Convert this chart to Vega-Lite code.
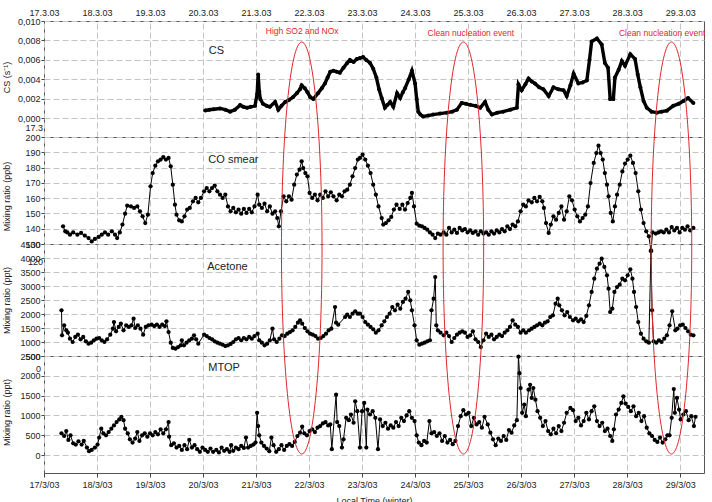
{
"$schema": "https://vega.github.io/schema/vega-lite/v6.json",
"background": "white",
"padding": {"left": 1, "top": 7, "right": 0, "bottom": 0},
"spacing": 0,
"bounds": "flush",
"config": {
  "font": "Liberation Sans",
  "view": {"stroke": "#555", "strokeWidth": 1},
  "axis": {"labelFont": "Liberation Sans", "labelFontSize": 9, "labelColor": "#222", "titleFont": "Liberation Sans", "titleFontSize": 9, "titleFontWeight": "normal", "titleColor": "#222", "gridColor": "#c4c4c4", "gridDash": [6, 3], "gridWidth": 1, "tickColor": "#444", "domain": false, "labelFlush": false, "labelOverlap": false, "tickSize": 3, "labelPadding": 1}
},
"datasets": {
  "cs": [{"d":20.04,"v":0.00082},{"d":20.12,"v":0.0009},{"d":20.2,"v":0.00095},{"d":20.32,"v":0.00103},{"d":20.42,"v":0.0009},{"d":20.51,"v":0.0007},{"d":20.6,"v":0.0009},{"d":20.7,"v":0.00137},{"d":20.76,"v":0.0012},{"d":20.83,"v":0.0011},{"d":20.9,"v":0.0012},{"d":20.98,"v":0.0013},{"d":21.02,"v":0.0025},{"d":21.04,"v":0.0045},{"d":21.06,"v":0.0028},{"d":21.08,"v":0.002},{"d":21.13,"v":0.0015},{"d":21.2,"v":0.0013},{"d":21.26,"v":0.0012},{"d":21.36,"v":0.0017},{"d":21.42,"v":0.0009},{"d":21.48,"v":0.0013},{"d":21.55,"v":0.0017},{"d":21.62,"v":0.0019},{"d":21.7,"v":0.0022},{"d":21.77,"v":0.0026},{"d":21.83,"v":0.003},{"d":21.86,"v":0.0034},{"d":21.92,"v":0.0031},{"d":21.97,"v":0.0027},{"d":22.02,"v":0.0022},{"d":22.08,"v":0.002},{"d":22.17,"v":0.0026},{"d":22.24,"v":0.0031},{"d":22.3,"v":0.0036},{"d":22.35,"v":0.0042},{"d":22.4,"v":0.0048},{"d":22.46,"v":0.0049},{"d":22.52,"v":0.0048},{"d":22.58,"v":0.0047},{"d":22.65,"v":0.0052},{"d":22.72,"v":0.0057},{"d":22.77,"v":0.006},{"d":22.84,"v":0.0058},{"d":22.9,"v":0.0061},{"d":22.96,"v":0.0062},{"d":23.02,"v":0.0063},{"d":23.08,"v":0.006},{"d":23.15,"v":0.0057},{"d":23.21,"v":0.0051},{"d":23.27,"v":0.0042},{"d":23.32,"v":0.003},{"d":23.37,"v":0.0021},{"d":23.43,"v":0.0011},{"d":23.48,"v":0.0014},{"d":23.53,"v":0.0017},{"d":23.59,"v":0.0012},{"d":23.66,"v":0.0026},{"d":23.72,"v":0.0021},{"d":23.77,"v":0.0027},{"d":23.81,"v":0.0031},{"d":23.88,"v":0.004},{"d":23.94,"v":0.0049},{"d":24.0,"v":0.0036},{"d":24.03,"v":0.002},{"d":24.06,"v":0.0007},{"d":24.1,"v":0.0004},{"d":24.15,"v":0.0002},{"d":24.25,"v":0.0003},{"d":24.34,"v":0.0004},{"d":24.47,"v":0.0005},{"d":24.6,"v":0.0006},{"d":24.7,"v":0.0007},{"d":24.79,"v":0.0009},{"d":24.88,"v":0.0016},{"d":24.96,"v":0.0015},{"d":25.04,"v":0.0014},{"d":25.14,"v":0.0013},{"d":25.23,"v":0.0011},{"d":25.32,"v":0.0017},{"d":25.38,"v":0.0009},{"d":25.45,"v":0.0004},{"d":25.55,"v":0.0006},{"d":25.66,"v":0.0007},{"d":25.8,"v":0.0009},{"d":25.92,"v":0.0011},{"d":25.95,"v":0.0035},{"d":26.01,"v":0.0029},{"d":26.08,"v":0.0035},{"d":26.14,"v":0.0041},{"d":26.2,"v":0.0038},{"d":26.26,"v":0.0036},{"d":26.34,"v":0.0032},{"d":26.42,"v":0.003},{"d":26.52,"v":0.0023},{"d":26.61,"v":0.0032},{"d":26.7,"v":0.003},{"d":26.8,"v":0.0029},{"d":26.86,"v":0.0023},{"d":26.93,"v":0.0034},{"d":26.99,"v":0.0046},{"d":27.08,"v":0.0036},{"d":27.16,"v":0.0037},{"d":27.24,"v":0.0039},{"d":27.29,"v":0.006},{"d":27.33,"v":0.0079},{"d":27.43,"v":0.0082},{"d":27.52,"v":0.0076},{"d":27.58,"v":0.0057},{"d":27.64,"v":0.0052},{"d":27.68,"v":0.002},{"d":27.74,"v":0.002},{"d":27.77,"v":0.0042},{"d":27.84,"v":0.005},{"d":27.9,"v":0.0059},{"d":27.96,"v":0.0054},{"d":28.06,"v":0.0066},{"d":28.15,"v":0.0061},{"d":28.2,"v":0.0045},{"d":28.25,"v":0.0032},{"d":28.31,"v":0.0018},{"d":28.37,"v":0.0011},{"d":28.46,"v":0.0007},{"d":28.56,"v":0.0006},{"d":28.65,"v":0.0007},{"d":28.75,"v":0.0008},{"d":28.87,"v":0.0013},{"d":28.97,"v":0.0015},{"d":29.06,"v":0.0018},{"d":29.15,"v":0.0021},{"d":29.25,"v":0.0016}],
  "co": [{"d":17.36,"v":141.6},{"d":17.40,"v":138.3},{"d":17.44,"v":137.6},{"d":17.49,"v":136.1},{"d":17.55,"v":137.6},{"d":17.63,"v":136.1},{"d":17.70,"v":137.2},{"d":17.77,"v":135.5},{"d":17.84,"v":133.9},{"d":17.90,"v":131.7},{"d":17.96,"v":133.3},{"d":18.03,"v":134.6},{"d":18.09,"v":136.1},{"d":18.15,"v":137.6},{"d":18.21,"v":136.1},{"d":18.28,"v":138.3},{"d":18.34,"v":136.1},{"d":18.38,"v":133.9},{"d":18.43,"v":137.6},{"d":18.48,"v":142.7},{"d":18.53,"v":149.8},{"d":18.57,"v":155.1},{"d":18.64,"v":154.6},{"d":18.70,"v":153.6},{"d":18.76,"v":154.6},{"d":18.81,"v":151.4},{"d":18.86,"v":148.1},{"d":18.91,"v":143.7},{"d":18.96,"v":149.2},{"d":19.01,"v":167.7},{"d":19.05,"v":176.4},{"d":19.10,"v":181.2},{"d":19.15,"v":184.1},{"d":19.20,"v":185.2},{"d":19.25,"v":186.9},{"d":19.30,"v":185.2},{"d":19.35,"v":186.3},{"d":19.39,"v":180.8},{"d":19.43,"v":168.8},{"d":19.47,"v":155.7},{"d":19.50,"v":149.2},{"d":19.55,"v":145.5},{"d":19.60,"v":144.8},{"d":19.65,"v":148.1},{"d":19.70,"v":152.5},{"d":19.75,"v":153.6},{"d":19.81,"v":157.9},{"d":19.86,"v":160.1},{"d":19.91,"v":157.3},{"d":19.96,"v":160.1},{"d":20.02,"v":164.5},{"d":20.07,"v":166.6},{"d":20.12,"v":164.5},{"d":20.17,"v":166.6},{"d":20.22,"v":168.2},{"d":20.27,"v":164.5},{"d":20.32,"v":162.3},{"d":20.37,"v":160.1},{"d":20.42,"v":162.3},{"d":20.47,"v":154.6},{"d":20.52,"v":151.4},{"d":20.57,"v":153.6},{"d":20.62,"v":150.7},{"d":20.67,"v":152.5},{"d":20.72,"v":149.8},{"d":20.77,"v":152.9},{"d":20.82,"v":150.3},{"d":20.87,"v":152.9},{"d":20.92,"v":150.7},{"d":20.97,"v":154.6},{"d":21.03,"v":162.3},{"d":21.06,"v":155.7},{"d":21.11,"v":153.6},{"d":21.16,"v":156.4},{"d":21.21,"v":151.4},{"d":21.26,"v":154.6},{"d":21.31,"v":149.8},{"d":21.36,"v":151.4},{"d":21.40,"v":147.0},{"d":21.43,"v":141.6},{"d":21.47,"v":151.4},{"d":21.52,"v":161.2},{"d":21.57,"v":157.9},{"d":21.62,"v":161.2},{"d":21.67,"v":159.0},{"d":21.72,"v":168.8},{"d":21.77,"v":175.4},{"d":21.82,"v":178.6},{"d":21.86,"v":184.1},{"d":21.89,"v":179.7},{"d":21.93,"v":176.4},{"d":21.97,"v":174.3},{"d":22.01,"v":163.4},{"d":22.06,"v":160.1},{"d":22.11,"v":162.3},{"d":22.16,"v":158.6},{"d":22.21,"v":162.3},{"d":22.26,"v":160.1},{"d":22.31,"v":164.5},{"d":22.36,"v":161.2},{"d":22.41,"v":163.8},{"d":22.46,"v":161.2},{"d":22.52,"v":158.6},{"d":22.57,"v":162.3},{"d":22.62,"v":161.2},{"d":22.67,"v":164.5},{"d":22.72,"v":165.5},{"d":22.77,"v":168.8},{"d":22.82,"v":174.3},{"d":22.87,"v":179.7},{"d":22.92,"v":185.2},{"d":22.96,"v":186.3},{"d":23.01,"v":188.4},{"d":23.06,"v":185.2},{"d":23.11,"v":181.2},{"d":23.16,"v":176.4},{"d":23.21,"v":168.8},{"d":23.26,"v":162.3},{"d":23.31,"v":154.6},{"d":23.37,"v":147.0},{"d":23.40,"v":142.7},{"d":23.45,"v":143.7},{"d":23.50,"v":145.5},{"d":23.55,"v":147.7},{"d":23.60,"v":152.5},{"d":23.65,"v":155.7},{"d":23.71,"v":152.9},{"d":23.76,"v":155.7},{"d":23.81,"v":152.5},{"d":23.86,"v":156.8},{"d":23.91,"v":160.1},{"d":23.94,"v":163.4},{"d":23.98,"v":154.6},{"d":24.03,"v":143.3},{"d":24.08,"v":142.0},{"d":24.13,"v":141.6},{"d":24.18,"v":140.5},{"d":24.23,"v":139.4},{"d":24.28,"v":137.6},{"d":24.33,"v":136.1},{"d":24.38,"v":133.9},{"d":24.43,"v":136.8},{"d":24.48,"v":136.1},{"d":24.54,"v":137.6},{"d":24.59,"v":136.1},{"d":24.64,"v":140.5},{"d":24.69,"v":137.6},{"d":24.74,"v":139.4},{"d":24.79,"v":137.2},{"d":24.84,"v":140.5},{"d":24.89,"v":138.9},{"d":24.94,"v":139.8},{"d":24.99,"v":137.6},{"d":25.04,"v":138.9},{"d":25.09,"v":137.2},{"d":25.14,"v":138.3},{"d":25.19,"v":136.1},{"d":25.24,"v":138.3},{"d":25.29,"v":136.8},{"d":25.34,"v":137.6},{"d":25.39,"v":136.1},{"d":25.44,"v":138.3},{"d":25.49,"v":136.8},{"d":25.54,"v":138.9},{"d":25.59,"v":137.6},{"d":25.64,"v":139.8},{"d":25.69,"v":138.3},{"d":25.74,"v":141.6},{"d":25.79,"v":139.8},{"d":25.84,"v":142.7},{"d":25.89,"v":141.6},{"d":25.94,"v":144.8},{"d":25.99,"v":151.4},{"d":26.04,"v":155.7},{"d":26.09,"v":154.6},{"d":26.14,"v":158.6},{"d":26.20,"v":157.3},{"d":26.25,"v":160.1},{"d":26.30,"v":157.9},{"d":26.35,"v":160.8},{"d":26.40,"v":157.9},{"d":26.43,"v":153.6},{"d":26.47,"v":143.7},{"d":26.52,"v":137.2},{"d":26.56,"v":142.7},{"d":26.61,"v":148.1},{"d":26.66,"v":145.9},{"d":26.71,"v":150.3},{"d":26.76,"v":154.6},{"d":26.81,"v":145.9},{"d":26.86,"v":151.4},{"d":26.91,"v":161.2},{"d":26.96,"v":158.6},{"d":27.01,"v":152.5},{"d":27.06,"v":148.1},{"d":27.11,"v":144.8},{"d":27.16,"v":147.0},{"d":27.21,"v":149.2},{"d":27.26,"v":154.6},{"d":27.31,"v":169.9},{"d":27.37,"v":183.0},{"d":27.42,"v":189.5},{"d":27.46,"v":194.3},{"d":27.50,"v":189.5},{"d":27.54,"v":185.2},{"d":27.58,"v":176.4},{"d":27.62,"v":168.8},{"d":27.65,"v":161.2},{"d":27.69,"v":150.3},{"d":27.73,"v":144.8},{"d":27.77,"v":154.6},{"d":27.81,"v":162.3},{"d":27.86,"v":168.8},{"d":27.91,"v":177.5},{"d":27.96,"v":182.6},{"d":28.01,"v":185.2},{"d":28.06,"v":187.8},{"d":28.11,"v":183.0},{"d":28.16,"v":176.4},{"d":28.21,"v":164.5},{"d":28.26,"v":152.5},{"d":28.31,"v":143.7},{"d":28.36,"v":138.3},{"d":28.41,"v":135.0},{"d":28.45,"v":125.2},{"d":28.48,"v":137.6},{"d":28.54,"v":136.8},{"d":28.59,"v":137.6},{"d":28.64,"v":138.3},{"d":28.69,"v":137.6},{"d":28.74,"v":139.4},{"d":28.79,"v":137.6},{"d":28.84,"v":141.1},{"d":28.89,"v":138.9},{"d":28.94,"v":140.5},{"d":28.99,"v":137.6},{"d":29.04,"v":140.5},{"d":29.09,"v":139.4},{"d":29.14,"v":141.6},{"d":29.19,"v":138.9},{"d":29.25,"v":140.5}],
  "ac": [{"d":17.33,"v":2131},{"d":17.34,"v":1238},{"d":17.38,"v":1595},{"d":17.42,"v":1417},{"d":17.45,"v":1333},{"d":17.49,"v":1119},{"d":17.54,"v":1000},{"d":17.59,"v":1179},{"d":17.64,"v":1262},{"d":17.69,"v":1095},{"d":17.74,"v":1179},{"d":17.79,"v":1024},{"d":17.84,"v":940},{"d":17.89,"v":976},{"d":17.94,"v":1060},{"d":17.99,"v":1119},{"d":18.04,"v":1143},{"d":18.09,"v":1060},{"d":18.14,"v":1000},{"d":18.19,"v":1095},{"d":18.25,"v":1262},{"d":18.30,"v":1476},{"d":18.32,"v":1714},{"d":18.36,"v":1381},{"d":18.41,"v":1536},{"d":18.45,"v":1655},{"d":18.50,"v":1417},{"d":18.55,"v":1595},{"d":18.60,"v":1536},{"d":18.65,"v":1595},{"d":18.69,"v":1833},{"d":18.72,"v":1500},{"d":18.77,"v":1595},{"d":18.82,"v":1476},{"d":18.87,"v":1262},{"d":18.92,"v":1536},{"d":18.97,"v":1595},{"d":19.03,"v":1619},{"d":19.08,"v":1571},{"d":19.13,"v":1619},{"d":19.18,"v":1536},{"d":19.23,"v":1619},{"d":19.28,"v":1571},{"d":19.31,"v":1738},{"d":19.35,"v":1357},{"d":19.39,"v":976},{"d":19.43,"v":786},{"d":19.48,"v":762},{"d":19.53,"v":821},{"d":19.58,"v":881},{"d":19.60,"v":1060},{"d":19.64,"v":881},{"d":19.69,"v":976},{"d":19.74,"v":1060},{"d":19.79,"v":1119},{"d":19.83,"v":1238},{"d":19.87,"v":1095},{"d":19.91,"v":940},{"d":20.02,"v":1262},{"d":20.07,"v":1214},{"d":20.12,"v":1143},{"d":20.17,"v":1095},{"d":20.22,"v":1024},{"d":20.27,"v":976},{"d":20.32,"v":940},{"d":20.37,"v":905},{"d":20.42,"v":857},{"d":20.47,"v":881},{"d":20.52,"v":929},{"d":20.57,"v":1000},{"d":20.62,"v":1095},{"d":20.67,"v":1143},{"d":20.72,"v":1060},{"d":20.77,"v":1143},{"d":20.82,"v":1095},{"d":20.87,"v":1179},{"d":20.92,"v":1119},{"d":20.97,"v":1214},{"d":21.03,"v":1298},{"d":21.06,"v":1060},{"d":21.11,"v":976},{"d":21.16,"v":881},{"d":21.21,"v":940},{"d":21.26,"v":1060},{"d":21.31,"v":1476},{"d":21.34,"v":1095},{"d":21.39,"v":1000},{"d":21.44,"v":1119},{"d":21.49,"v":1238},{"d":21.54,"v":1214},{"d":21.59,"v":1298},{"d":21.64,"v":1357},{"d":21.69,"v":1417},{"d":21.74,"v":1536},{"d":21.79,"v":1690},{"d":21.83,"v":1774},{"d":21.87,"v":1655},{"d":21.92,"v":1500},{"d":21.97,"v":1381},{"d":22.02,"v":1298},{"d":22.07,"v":1262},{"d":22.12,"v":1214},{"d":22.17,"v":1119},{"d":22.22,"v":1143},{"d":22.27,"v":1214},{"d":22.32,"v":1298},{"d":22.37,"v":1417},{"d":22.42,"v":1476},{"d":22.49,"v":2250},{"d":22.51,"v":1690},{"d":22.55,"v":1619},{"d":22.68,"v":1893},{"d":22.72,"v":1976},{"d":22.77,"v":1893},{"d":22.82,"v":2012},{"d":22.87,"v":2095},{"d":22.92,"v":2012},{"d":22.96,"v":2012},{"d":23.01,"v":1893},{"d":23.06,"v":1714},{"d":23.11,"v":1619},{"d":23.16,"v":1536},{"d":23.21,"v":1452},{"d":23.26,"v":1333},{"d":23.31,"v":1417},{"d":23.37,"v":1595},{"d":23.42,"v":1738},{"d":23.47,"v":1893},{"d":23.52,"v":2012},{"d":23.57,"v":2250},{"d":23.62,"v":2131},{"d":23.67,"v":2333},{"d":23.72,"v":2190},{"d":23.77,"v":2429},{"d":23.82,"v":2548},{"d":23.87,"v":2786},{"d":23.91,"v":2488},{"d":23.94,"v":2131},{"d":23.99,"v":1595},{"d":24.03,"v":1060},{"d":24.08,"v":905},{"d":24.13,"v":940},{"d":24.18,"v":976},{"d":24.23,"v":1024},{"d":24.28,"v":1060},{"d":24.31,"v":2131},{"d":24.35,"v":2548},{"d":24.38,"v":3321},{"d":24.40,"v":1595},{"d":24.43,"v":1417},{"d":24.48,"v":1333},{"d":24.54,"v":1238},{"d":24.59,"v":1333},{"d":24.64,"v":1214},{"d":24.69,"v":1000},{"d":24.74,"v":1143},{"d":24.79,"v":1262},{"d":24.84,"v":1333},{"d":24.89,"v":1381},{"d":24.94,"v":1333},{"d":24.99,"v":1179},{"d":25.04,"v":1238},{"d":25.09,"v":1381},{"d":25.14,"v":1095},{"d":25.19,"v":1000},{"d":25.24,"v":821},{"d":25.29,"v":1060},{"d":25.34,"v":1298},{"d":25.39,"v":1179},{"d":25.44,"v":1262},{"d":25.49,"v":1095},{"d":25.54,"v":1179},{"d":25.59,"v":1262},{"d":25.64,"v":1214},{"d":25.69,"v":1333},{"d":25.74,"v":1417},{"d":25.79,"v":1536},{"d":25.84,"v":1774},{"d":25.89,"v":1619},{"d":25.94,"v":1536},{"d":25.99,"v":1333},{"d":26.04,"v":1417},{"d":26.09,"v":1333},{"d":26.15,"v":1417},{"d":26.20,"v":1476},{"d":26.25,"v":1536},{"d":26.30,"v":1595},{"d":26.35,"v":1655},{"d":26.40,"v":1595},{"d":26.45,"v":1690},{"d":26.50,"v":1738},{"d":26.55,"v":1893},{"d":26.60,"v":1952},{"d":26.65,"v":2369},{"d":26.69,"v":2548},{"d":26.72,"v":2310},{"d":26.77,"v":2131},{"d":26.82,"v":1952},{"d":26.87,"v":2071},{"d":26.92,"v":1893},{"d":26.98,"v":1774},{"d":27.03,"v":1833},{"d":27.08,"v":1738},{"d":27.13,"v":1810},{"d":27.18,"v":1714},{"d":27.23,"v":1929},{"d":27.28,"v":2310},{"d":27.33,"v":2786},{"d":27.38,"v":3262},{"d":27.43,"v":3619},{"d":27.48,"v":3798},{"d":27.52,"v":3976},{"d":27.57,"v":3679},{"d":27.62,"v":3381},{"d":27.65,"v":2905},{"d":27.68,"v":2071},{"d":27.72,"v":2190},{"d":27.76,"v":2786},{"d":27.81,"v":2964},{"d":27.86,"v":3048},{"d":27.91,"v":3262},{"d":27.96,"v":3202},{"d":28.01,"v":3381},{"d":28.06,"v":3595},{"d":28.10,"v":3262},{"d":28.13,"v":2786},{"d":28.17,"v":2250},{"d":28.21,"v":1714},{"d":28.26,"v":1298},{"d":28.31,"v":1119},{"d":28.36,"v":1024},{"d":28.41,"v":976},{"d":28.45,"v":4274},{"d":28.47,"v":2131},{"d":28.50,"v":1024},{"d":28.55,"v":976},{"d":28.60,"v":1060},{"d":28.65,"v":1000},{"d":28.70,"v":1119},{"d":28.75,"v":1238},{"d":28.80,"v":1595},{"d":28.85,"v":2095},{"d":28.91,"v":1417},{"d":28.95,"v":1476},{"d":29.00,"v":1595},{"d":29.05,"v":1619},{"d":29.10,"v":1500},{"d":29.15,"v":1381},{"d":29.20,"v":1262},{"d":29.25,"v":1238}],
  "mt": [{"d":17.33,"v":550},{"d":17.38,"v":483},{"d":17.42,"v":608},{"d":17.46,"v":383},{"d":17.50,"v":500},{"d":17.55,"v":300},{"d":17.60,"v":267},{"d":17.65,"v":350},{"d":17.71,"v":267},{"d":17.75,"v":358},{"d":17.81,"v":192},{"d":17.85,"v":100},{"d":17.90,"v":133},{"d":17.96,"v":192},{"d":18.01,"v":267},{"d":18.04,"v":442},{"d":18.08,"v":667},{"d":18.12,"v":550},{"d":18.17,"v":500},{"d":18.22,"v":583},{"d":18.27,"v":667},{"d":18.32,"v":750},{"d":18.37,"v":833},{"d":18.42,"v":900},{"d":18.46,"v":967},{"d":18.50,"v":883},{"d":18.53,"v":667},{"d":18.58,"v":550},{"d":18.62,"v":400},{"d":18.67,"v":317},{"d":18.72,"v":417},{"d":18.76,"v":583},{"d":18.80,"v":358},{"d":18.85,"v":500},{"d":18.90,"v":550},{"d":18.95,"v":467},{"d":19.00,"v":550},{"d":19.05,"v":500},{"d":19.10,"v":583},{"d":19.15,"v":525},{"d":19.20,"v":650},{"d":19.25,"v":550},{"d":19.30,"v":650},{"d":19.35,"v":833},{"d":19.36,"v":467},{"d":19.40,"v":250},{"d":19.45,"v":300},{"d":19.50,"v":192},{"d":19.55,"v":233},{"d":19.60,"v":133},{"d":19.65,"v":250},{"d":19.70,"v":150},{"d":19.74,"v":383},{"d":19.79,"v":192},{"d":19.84,"v":250},{"d":19.89,"v":150},{"d":19.94,"v":83},{"d":19.99,"v":192},{"d":20.04,"v":133},{"d":20.09,"v":83},{"d":20.14,"v":167},{"d":20.19,"v":83},{"d":20.25,"v":133},{"d":20.30,"v":67},{"d":20.35,"v":192},{"d":20.40,"v":108},{"d":20.45,"v":150},{"d":20.50,"v":83},{"d":20.53,"v":250},{"d":20.57,"v":108},{"d":20.62,"v":192},{"d":20.67,"v":150},{"d":20.72,"v":233},{"d":20.77,"v":183},{"d":20.81,"v":442},{"d":20.85,"v":192},{"d":20.90,"v":233},{"d":20.95,"v":267},{"d":20.99,"v":317},{"d":21.02,"v":1067},{"d":21.04,"v":733},{"d":21.06,"v":500},{"d":21.10,"v":317},{"d":21.15,"v":233},{"d":21.20,"v":167},{"d":21.25,"v":100},{"d":21.29,"v":442},{"d":21.33,"v":250},{"d":21.38,"v":83},{"d":21.43,"v":150},{"d":21.48,"v":250},{"d":21.53,"v":133},{"d":21.58,"v":233},{"d":21.63,"v":275},{"d":21.68,"v":233},{"d":21.73,"v":333},{"d":21.78,"v":483},{"d":21.83,"v":567},{"d":21.87,"v":717},{"d":21.91,"v":550},{"d":21.96,"v":500},{"d":22.01,"v":608},{"d":22.06,"v":650},{"d":22.11,"v":583},{"d":22.16,"v":692},{"d":22.21,"v":733},{"d":22.26,"v":800},{"d":22.31,"v":833},{"d":22.36,"v":750},{"d":22.40,"v":775},{"d":22.43,"v":150},{"d":22.51,"v":1525},{"d":22.53,"v":833},{"d":22.57,"v":733},{"d":22.62,"v":192},{"d":22.65,"v":400},{"d":22.70,"v":942},{"d":22.75,"v":883},{"d":22.79,"v":1025},{"d":22.84,"v":817},{"d":22.87,"v":1358},{"d":22.91,"v":1108},{"d":22.96,"v":192},{"d":23.00,"v":1108},{"d":23.04,"v":1317},{"d":23.08,"v":192},{"d":23.10,"v":1150},{"d":23.15,"v":1025},{"d":23.20,"v":1108},{"d":23.25,"v":942},{"d":23.30,"v":150},{"d":23.34,"v":900},{"d":23.39,"v":733},{"d":23.44,"v":817},{"d":23.49,"v":667},{"d":23.54,"v":750},{"d":23.59,"v":692},{"d":23.64,"v":833},{"d":23.69,"v":733},{"d":23.74,"v":942},{"d":23.79,"v":858},{"d":23.84,"v":1000},{"d":23.89,"v":1108},{"d":23.94,"v":942},{"d":23.99,"v":858},{"d":24.03,"v":500},{"d":24.07,"v":317},{"d":24.12,"v":250},{"d":24.17,"v":358},{"d":24.22,"v":317},{"d":24.27,"v":858},{"d":24.31,"v":550},{"d":24.36,"v":583},{"d":24.41,"v":483},{"d":24.46,"v":550},{"d":24.51,"v":358},{"d":24.56,"v":483},{"d":24.61,"v":317},{"d":24.66,"v":383},{"d":24.71,"v":275},{"d":24.76,"v":358},{"d":24.81,"v":733},{"d":24.86,"v":983},{"d":24.91,"v":1133},{"d":24.96,"v":1025},{"d":25.01,"v":1067},{"d":25.06,"v":733},{"d":25.11,"v":942},{"d":25.16,"v":775},{"d":25.21,"v":833},{"d":25.26,"v":692},{"d":25.31,"v":967},{"d":25.37,"v":775},{"d":25.42,"v":567},{"d":25.47,"v":400},{"d":25.52,"v":250},{"d":25.57,"v":417},{"d":25.62,"v":358},{"d":25.67,"v":483},{"d":25.72,"v":383},{"d":25.77,"v":633},{"d":25.82,"v":567},{"d":25.87,"v":750},{"d":25.92,"v":883},{"d":25.95,"v":2483},{"d":25.97,"v":2067},{"d":25.99,"v":1692},{"d":26.02,"v":1067},{"d":26.06,"v":1275},{"d":26.09,"v":983},{"d":26.14,"v":1650},{"d":26.17,"v":1775},{"d":26.20,"v":1442},{"d":26.23,"v":1692},{"d":26.27,"v":1400},{"d":26.31,"v":1108},{"d":26.36,"v":942},{"d":26.41,"v":733},{"d":26.46,"v":858},{"d":26.51,"v":608},{"d":26.56,"v":525},{"d":26.61,"v":667},{"d":26.66,"v":550},{"d":26.71,"v":733},{"d":26.76,"v":608},{"d":26.81,"v":817},{"d":26.86,"v":1067},{"d":26.93,"v":1192},{"d":26.98,"v":1133},{"d":27.03,"v":858},{"d":27.08,"v":942},{"d":27.13,"v":750},{"d":27.18,"v":858},{"d":27.23,"v":1067},{"d":27.28,"v":900},{"d":27.33,"v":1108},{"d":27.38,"v":1233},{"d":27.43,"v":858},{"d":27.48,"v":733},{"d":27.53,"v":817},{"d":27.58,"v":608},{"d":27.63,"v":667},{"d":27.68,"v":483},{"d":27.72,"v":358},{"d":27.75,"v":650},{"d":27.79,"v":1025},{"d":27.84,"v":1150},{"d":27.89,"v":1317},{"d":27.93,"v":1483},{"d":27.97,"v":1300},{"d":28.02,"v":1217},{"d":28.07,"v":1108},{"d":28.12,"v":1233},{"d":28.17,"v":983},{"d":28.22,"v":1067},{"d":28.27,"v":858},{"d":28.32,"v":983},{"d":28.37,"v":692},{"d":28.42,"v":550},{"d":28.47,"v":483},{"d":28.52,"v":383},{"d":28.57,"v":333},{"d":28.62,"v":442},{"d":28.67,"v":317},{"d":28.72,"v":400},{"d":28.76,"v":500},{"d":28.80,"v":500},{"d":28.84,"v":942},{"d":28.88,"v":1667},{"d":28.90,"v":1067},{"d":28.94,"v":1442},{"d":28.98,"v":1150},{"d":29.01,"v":900},{"d":29.06,"v":1025},{"d":29.11,"v":1108},{"d":29.16,"v":883},{"d":29.21,"v":983},{"d":29.26,"v":733},{"d":29.29,"v":967}]
},
"vconcat": [
  {
    "width": 660, "height": 116,
    "encoding": {
      "x": {"field": "d", "type": "quantitative", "scale": {"domain": [17, 29.45], "nice": false, "zero": false},
            "axis": {"orient": "top", "values": [17,18,19,20,21,22,23,24,25,26,27,28,29], "labelExpr": "datum.value + '.3.03'", "ticks": false, "grid": true, "labelPadding": 4, "title": null}},
      "y": {"field": "v", "type": "quantitative", "scale": {"domain": [-0.0019, 0.01], "nice": false, "zero": false},
            "axis": {"values": [0, 0.002, 0.004, 0.006, 0.008, 0.01], "labelExpr": "replace(format(datum.value, '.3f'), '.', ',')", "title": "CS (s⁻¹)", "titleX": -33, "titleY": 56, "grid": true}}
    },
    "layer": [
      {"data": {"name": "cs"}, "mark": {"type": "line", "color": "#000", "strokeWidth": 3.4, "point": {"filled": true, "size": 16, "color": "#000"}}},
      {"data": {"values": [{"d": 20.11, "v": 0.00692, "t": "CS"}]}, "mark": {"type": "text", "align": "left", "baseline": "middle", "fontSize": 11, "color": "#222", "font": "Liberation Sans"}, "encoding": {"text": {"field": "t"}}},
      {"data": {"values": [{"d": 17, "v": -0.00098, "t": "17.3"}]}, "mark": {"type": "text", "align": "right", "baseline": "middle", "dx": -1, "fontSize": 9, "color": "#222", "font": "Liberation Sans"}, "encoding": {"text": {"field": "t"}}},
      {"data": {"values": [{"d": 21.87, "v": 0.00897, "t": "High SO2 and NOx"}, {"d": 25.05, "v": 0.00874, "t": "Clean nucleation event"}, {"d": 28.66, "v": 0.00874, "t": "Clean nucleation event"}]}, "mark": {"type": "text", "align": "center", "baseline": "middle", "fontSize": 8.5, "color": "#e0262b", "font": "Liberation Sans"}, "encoding": {"text": {"field": "t"}}}
    ]
  },
  {
    "width": 660, "height": 107,
    "encoding": {
      "x": {"field": "d", "type": "quantitative", "scale": {"domain": [17, 29.45], "nice": false, "zero": false},
            "axis": {"values": [17,18,19,20,21,22,23,24,25,26,27,28,29], "labels": false, "ticks": false, "grid": true, "title": null}},
      "y": {"field": "v", "type": "quantitative", "scale": {"domain": [130, 200], "nice": false, "zero": false},
            "axis": {"values": [130,140,150,160,170,180,190,200], "format": "d", "title": "Mixing ratio (ppb)", "titleX": -33, "titleY": 59, "grid": true}}
    },
    "layer": [
      {"data": {"name": "co"}, "mark": {"type": "line", "color": "#000", "strokeWidth": 1, "point": {"filled": true, "size": 18, "color": "#000"}}},
      {"data": {"values": [{"d": 20.1, "v": 185.2, "t": "CO smear"}]}, "mark": {"type": "text", "align": "left", "baseline": "middle", "fontSize": 11, "color": "#222", "font": "Liberation Sans"}, "encoding": {"text": {"field": "t"}}}
    ]
  },
  {
    "width": 660, "height": 112,
    "encoding": {
      "x": {"field": "d", "type": "quantitative", "scale": {"domain": [17, 29.45], "nice": false, "zero": false},
            "axis": {"values": [17,18,19,20,21,22,23,24,25,26,27,28,29], "labels": false, "ticks": false, "grid": true, "title": null}},
      "y": {"field": "v", "type": "quantitative", "scale": {"domain": [500, 4500], "nice": false, "zero": false},
            "axis": {"values": [500,1000,1500,2000,2500,3000,3500,4000,4500], "format": "d", "title": "Mixing ratio (ppt)", "titleX": -33, "titleY": 56, "grid": true}}
    },
    "layer": [
      {"data": {"name": "ac"}, "mark": {"type": "line", "color": "#000", "strokeWidth": 1, "point": {"filled": true, "size": 18, "color": "#000"}}},
      {"data": {"values": [{"d": 20.08, "v": 3679, "t": "Acetone"}]}, "mark": {"type": "text", "align": "left", "baseline": "middle", "fontSize": 11, "color": "#222", "font": "Liberation Sans"}, "encoding": {"text": {"field": "t"}}},
      {"data": {"values": [{"d": 17, "v": 3857, "t": "120"}]}, "mark": {"type": "text", "align": "right", "baseline": "middle", "dx": -1, "fontSize": 9, "color": "#222", "font": "Liberation Sans"}, "encoding": {"text": {"field": "t"}}}
    ]
  },
  {
    "width": 660, "height": 117,
    "encoding": {
      "x": {"field": "d", "type": "quantitative", "scale": {"domain": [17, 29.45], "nice": false, "zero": false},
            "axis": {"values": [17,18,19,20,21,22,23,24,25,26,27,28,29], "labelExpr": "datum.value + '/3/03'", "tickSize": 4, "labelPadding": 3, "grid": true, "title": "Local Time (winter)", "titlePadding": 7}},
      "y": {"field": "v", "type": "quantitative", "scale": {"domain": [-450, 2500], "nice": false, "zero": false},
            "axis": {"values": [0,500,1000,1500,2000,2500], "format": "d", "title": "Mixing ratio (ppt)", "titleX": -33, "titleY": 56, "grid": true}}
    },
    "layer": [
      {"data": {"name": "mt"}, "mark": {"type": "line", "color": "#000", "strokeWidth": 1, "point": {"filled": true, "size": 18, "color": "#000"}}},
      {"data": {"values": [{"d": 20.1, "v": 2205, "t": "MTOP"}]}, "mark": {"type": "text", "align": "left", "baseline": "middle", "fontSize": 11, "color": "#222", "font": "Liberation Sans"}, "encoding": {"text": {"field": "t"}}},
      {"data": {"values": [{"d": 17, "v": 2172, "t": "0"}]}, "mark": {"type": "text", "align": "right", "baseline": "middle", "dx": -3, "fontSize": 9, "color": "#222", "font": "Liberation Sans"}, "encoding": {"text": {"field": "t"}}},
      {"data": {"values": [{"d": 21.862, "v": 5223}, {"d": 24.911, "v": 5223}, {"d": 28.836, "v": 5223}]}, "mark": {"type": "point", "shape": "M0,-1C0.0544,-1,0.0985,-0.5523,0.0985,0C0.0985,0.5523,0.0544,1,0,1C-0.0544,1,-0.0985,0.5523,-0.0985,0C-0.0985,-0.5523,-0.0544,-1,0,-1Z", "size": 169744, "filled": false, "color": "#e0262b", "strokeWidth": 1, "opacity": 1}}
    ]
  }
]
}
